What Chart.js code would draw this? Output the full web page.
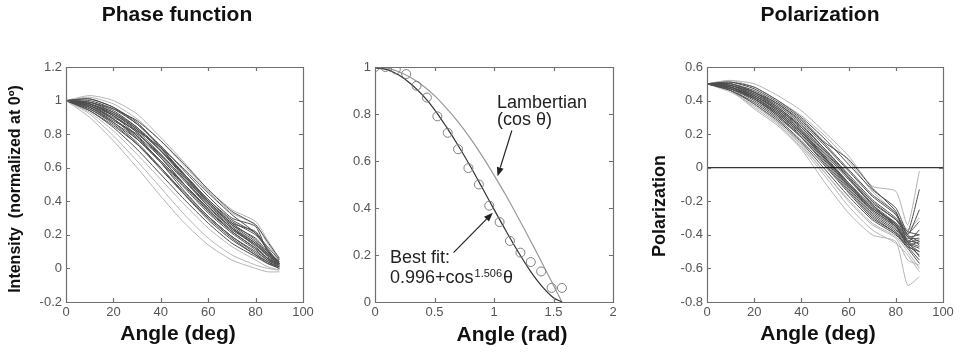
<!DOCTYPE html>
<html>
<head>
<meta charset="utf-8">
<script src="https://cdn.jsdelivr.net/npm/chart.js@4.4.1/dist/chart.umd.min.js"></script>
<style>
	html, body { margin: 0; padding: 0; background: #fff; }
	#figure { position: relative; width: 962px; height: 352px; }
	.panel { position: absolute; top: 0; height: 352px; }
</style>
</head>
<body>
<div id="figure">
	<div class="panel" style="left:0;width:320px"><canvas id="phase"></canvas></div>
	<div class="panel" style="left:320px;width:320px"><canvas id="fit"></canvas></div>
	<div class="panel" style="left:640px;width:322px"><canvas id="polar"></canvas></div>
</div>
<script>
// angles (deg) the measured curves were read at
var anglesDeg = [0, 10, 20, 30, 40, 50, 60, 70, 80, 85, 90];

// phase function, one row per sample, normalized at 0 deg
var phaseCurves = [
	[1.00, 1.03, 1.00, 0.92, 0.78, 0.63, 0.47, 0.35, 0.28, 0.17, 0.06],
	[1.00, 1.02, 0.98, 0.89, 0.76, 0.61, 0.46, 0.33, 0.26, 0.15, 0.05],
	[1.00, 0.97, 0.90, 0.82, 0.72, 0.59, 0.45, 0.32, 0.21, 0.11, 0.04],
	[1.00, 1.01, 0.96, 0.86, 0.73, 0.58, 0.43, 0.30, 0.25, 0.10, 0.03],
	[1.00, 1.01, 0.96, 0.87, 0.72, 0.55, 0.39, 0.26, 0.18, 0.10, 0.04],
	[1.00, 0.99, 0.93, 0.83, 0.70, 0.55, 0.40, 0.27, 0.17, 0.09, 0.03],
	[1.00, 0.98, 0.92, 0.82, 0.68, 0.53, 0.38, 0.25, 0.15, 0.08, 0.02],
	[1.00, 0.98, 0.91, 0.81, 0.67, 0.52, 0.37, 0.24, 0.14, 0.07, 0.02],
	[1.00, 0.96, 0.88, 0.80, 0.68, 0.53, 0.37, 0.24, 0.13, 0.06, 0.03],
	[1.00, 0.97, 0.89, 0.78, 0.64, 0.49, 0.34, 0.22, 0.12, 0.06, 0.01],
	[1.00, 0.97, 0.89, 0.77, 0.63, 0.48, 0.33, 0.21, 0.11, 0.05, 0.02],
	[1.00, 0.98, 0.91, 0.79, 0.63, 0.46, 0.31, 0.19, 0.10, 0.05, 0.01],
	[1.00, 0.96, 0.87, 0.75, 0.60, 0.45, 0.31, 0.19, 0.09, 0.04, 0.00],
	[1.00, 0.95, 0.86, 0.74, 0.59, 0.44, 0.30, 0.18, 0.08, 0.04, 0.01],
	[1.00, 0.94, 0.85, 0.74, 0.60, 0.44, 0.29, 0.17, 0.08, 0.03, 0.00],
	[1.00, 0.94, 0.84, 0.71, 0.56, 0.41, 0.27, 0.15, 0.07, 0.03, 0.01],
	[1.00, 0.93, 0.82, 0.68, 0.53, 0.38, 0.24, 0.13, 0.05, 0.01, -0.01],
	[1.00, 0.92, 0.79, 0.64, 0.48, 0.32, 0.18, 0.08, 0.02, 0.00, -0.01],
	[1.00, 0.90, 0.76, 0.60, 0.43, 0.27, 0.14, 0.05, 0.00, -0.02, -0.02],
	[1.00, 0.99, 0.95, 0.88, 0.76, 0.62, 0.47, 0.34, 0.26, 0.16, 0.06],
	[1.00, 0.98, 0.93, 0.84, 0.71, 0.56, 0.41, 0.28, 0.20, 0.12, 0.02],
	[1.00, 0.99, 0.94, 0.84, 0.70, 0.54, 0.39, 0.26, 0.16, 0.09, 0.04],
	[1.00, 0.98, 0.92, 0.83, 0.70, 0.56, 0.41, 0.29, 0.21, 0.13, 0.05],
	[1.00, 0.96, 0.89, 0.79, 0.66, 0.50, 0.35, 0.23, 0.14, 0.08, 0.03],
	[1.00, 0.97, 0.91, 0.81, 0.66, 0.50, 0.35, 0.22, 0.12, 0.06, 0.02],
	[1.00, 1.00, 0.95, 0.86, 0.72, 0.56, 0.40, 0.27, 0.22, 0.11, 0.03],
	[1.00, 0.95, 0.87, 0.77, 0.64, 0.50, 0.36, 0.24, 0.15, 0.08, 0.03]
];
var phaseLight = [0, 1, 16, 17, 18];

// polarization, one row per sample
var polarCurves = [
	[0.50, 0.52, 0.50, 0.43, 0.34, 0.21, 0.07, -0.11, -0.14, -0.34, -0.02],
	[0.50, 0.51, 0.48, 0.40, 0.30, 0.17, 0.02, -0.13, -0.24, -0.38, -0.13],
	[0.50, 0.50, 0.46, 0.38, 0.27, 0.13, -0.02, -0.17, -0.28, -0.40, -0.25],
	[0.50, 0.50, 0.45, 0.37, 0.26, 0.11, -0.04, -0.19, -0.30, -0.39, -0.32],
	[0.50, 0.49, 0.44, 0.36, 0.24, 0.09, -0.06, -0.21, -0.31, -0.41, -0.40],
	[0.50, 0.49, 0.44, 0.35, 0.23, 0.08, -0.07, -0.22, -0.33, -0.42, -0.42],
	[0.50, 0.48, 0.43, 0.34, 0.22, 0.07, -0.09, -0.24, -0.34, -0.43, -0.45],
	[0.50, 0.48, 0.42, 0.33, 0.21, 0.06, -0.10, -0.25, -0.35, -0.44, -0.47],
	[0.50, 0.48, 0.42, 0.32, 0.20, 0.05, -0.11, -0.26, -0.36, -0.45, -0.48],
	[0.50, 0.47, 0.41, 0.31, 0.19, 0.04, -0.12, -0.27, -0.37, -0.45, -0.50],
	[0.50, 0.47, 0.40, 0.30, 0.18, 0.03, -0.13, -0.28, -0.38, -0.46, -0.52],
	[0.50, 0.46, 0.39, 0.29, 0.16, 0.01, -0.15, -0.30, -0.39, -0.47, -0.55],
	[0.50, 0.46, 0.38, 0.28, 0.15, -0.01, -0.17, -0.31, -0.40, -0.48, -0.57],
	[0.50, 0.45, 0.37, 0.27, 0.13, -0.03, -0.19, -0.33, -0.41, -0.50, -0.60],
	[0.50, 0.49, 0.45, 0.38, 0.28, 0.14, -0.01, -0.16, -0.27, -0.40, -0.44],
	[0.50, 0.51, 0.47, 0.39, 0.29, 0.15, 0.05, -0.12, -0.26, -0.44, -0.37],
	[0.50, 0.46, 0.35, 0.25, 0.11, -0.09, -0.27, -0.40, -0.44, -0.70, -0.65],
	[0.50, 0.46, 0.36, 0.26, 0.12, -0.05, -0.23, -0.37, -0.45, -0.52, -0.62],
	[0.50, 0.47, 0.38, 0.27, 0.14, -0.03, -0.20, -0.34, -0.42, -0.55, -0.58],
	[0.50, 0.52, 0.48, 0.40, 0.31, 0.19, 0.04, -0.14, -0.27, -0.37, -0.30],
	[0.50, 0.49, 0.43, 0.34, 0.22, 0.06, -0.10, -0.24, -0.33, -0.41, -0.46],
	[0.50, 0.48, 0.43, 0.35, 0.24, 0.10, -0.06, -0.22, -0.35, -0.44, -0.43],
	[0.50, 0.47, 0.41, 0.32, 0.20, 0.05, -0.11, -0.25, -0.35, -0.44, -0.53],
	[0.50, 0.48, 0.41, 0.31, 0.18, 0.02, -0.14, -0.29, -0.39, -0.47, -0.50],
	[0.50, 0.50, 0.45, 0.36, 0.25, 0.11, -0.05, -0.20, -0.31, -0.38, -0.40],
	[0.50, 0.47, 0.42, 0.33, 0.21, 0.06, -0.09, -0.23, -0.34, -0.46, -0.44]
];
var polarLight = [0, 13, 16, 17, 18, 19];
var zeroLineX = [0, 100];
var zeroLineY = [0, 0];

// middle panel: model curves and the averaged measurement
var fitRad = [0, 0.1, 0.2, 0.3, 0.4, 0.5, 0.6, 0.7, 0.8, 0.9, 1.0, 1.1, 1.2, 1.3, 1.4, 1.5, 1.571];
var lambertian = [1.000, 0.995, 0.980, 0.955, 0.921, 0.878, 0.825, 0.765, 0.697, 0.622, 0.540, 0.454, 0.362, 0.267, 0.170, 0.071, 0.000];
var bestFit = [0.996, 0.989, 0.966, 0.929, 0.880, 0.819, 0.745, 0.665, 0.579, 0.487, 0.394, 0.303, 0.216, 0.136, 0.069, 0.018, 0.000];
var measuredRad = [0, 0.087, 0.175, 0.262, 0.349, 0.436, 0.524, 0.611, 0.698, 0.785, 0.873, 0.960, 1.047, 1.134, 1.222, 1.309, 1.396, 1.484, 1.571];
var measured = [1.00, 1.00, 0.99, 0.97, 0.92, 0.87, 0.79, 0.72, 0.65, 0.57, 0.50, 0.41, 0.34, 0.26, 0.21, 0.17, 0.13, 0.06, 0.06];

var FONT = '"Liberation Sans", Arial, sans-serif';
var DARK = '#4d4d4d', LIGHT = '#b3b3b3';

function points(xs, ys) {
	return xs.map(function(x, i) { return {x: x, y: ys[i]}; });
}

function curveSets(rows, light) {
	var dark = [], pale = [];
	rows.forEach(function(row, i) {
		var isLight = light.indexOf(i) >= 0;
		(isLight ? pale : dark).push({
			data: points(anglesDeg, row),
			borderColor: isLight ? LIGHT : DARK,
			borderWidth: 1,
			pointRadius: 0,
			tension: 0.2
		});
	});
	// dataset 0 is painted last, so dark curves go first
	return dark.concat(pale);
}

function tickLabel(v) {
	return String(Math.round(v * 10) / 10);
}

function axis(min, max, step, size, vertical) {
	return {
		type: 'linear',
		min: min,
		max: max,
		ticks: {stepSize: step, padding: vertical ? 4 : 3, color: '#555', font: {family: FONT, size: 13}, maxRotation: 0, callback: tickLabel},
		grid: {display: false, drawTicks: false},
		border: {display: false},
		afterFit: function(scale) {
			if (vertical) scale.width = size; else scale.height = size;
		}
	};
}

// MATLAB-like box with inward ticks on all four sides
var framePlugin = {
	id: 'frame',
	afterDatasetsDraw: function(chart) {
		var ctx = chart.ctx, a = chart.chartArea,
			sx = chart.scales.x, sy = chart.scales.y;
		ctx.save();
		ctx.strokeStyle = '#707070';
		ctx.lineWidth = 1.2;
		ctx.beginPath();
		ctx.rect(Math.round(a.left) + 0.5, Math.round(a.top) + 0.5, Math.round(a.right - a.left), Math.round(a.bottom - a.top));
		sx.ticks.forEach(function(t) {
			var px = Math.round(sx.getPixelForValue(t.value)) + 0.5;
			ctx.moveTo(px, a.bottom); ctx.lineTo(px, a.bottom - 4);
			ctx.moveTo(px, a.top); ctx.lineTo(px, a.top + 4);
		});
		sy.ticks.forEach(function(t) {
			var py = Math.round(sy.getPixelForValue(t.value)) + 0.5;
			ctx.moveTo(a.left, py); ctx.lineTo(a.left + 4, py);
			ctx.moveTo(a.right, py); ctx.lineTo(a.right - 4, py);
		});
		ctx.stroke();
		ctx.restore();
	}
};

// titles and axis labels, placed where the original figure had them
function labelPlugin(labels) {
	return {
		id: 'labels',
		afterDraw: function(chart) {
			var ctx = chart.ctx;
			ctx.save();
			ctx.fillStyle = '#111';
			labels.forEach(function(l) {
				ctx.save();
				ctx.font = 'bold ' + l.size + 'px ' + FONT;
				ctx.textAlign = 'center';
				ctx.translate(l.x, l.y);
				if (l.rotate) {
					ctx.rotate(-Math.PI / 2);
					ctx.textBaseline = 'middle';
				} else {
					ctx.textBaseline = 'alphabetic';
				}
				ctx.fillText(l.text, 0, 0);
				ctx.restore();
			});
			ctx.restore();
		}
	};
}

function drawArrow(ctx, x0, y0, x1, y1) {
	var ang = Math.atan2(y1 - y0, x1 - x0), len = 9, half = 3.5;
	ctx.beginPath();
	ctx.moveTo(x0, y0);
	ctx.lineTo(x1 - Math.cos(ang) * len, y1 - Math.sin(ang) * len);
	ctx.stroke();
	ctx.beginPath();
	ctx.moveTo(x1, y1);
	ctx.lineTo(x1 - Math.cos(ang) * len - Math.sin(ang) * half, y1 - Math.sin(ang) * len + Math.cos(ang) * half);
	ctx.lineTo(x1 - Math.cos(ang) * len + Math.sin(ang) * half, y1 - Math.sin(ang) * len - Math.cos(ang) * half);
	ctx.closePath();
	ctx.fill();
}

// annotations in data units of the middle panel
var fitNotes = [
	{text: 'Lambertian', at: [1.025, 0.826]},
	{text: '(cos θ)', at: [1.025, 0.753]},
	{text: 'Best fit:', at: [0.126, 0.166]},
	{text: '0.996+cos', sup: '1.506', after: 'θ', at: [0.126, 0.081]}
];
var fitArrows = [
	{from: [1.15, 0.73], to: [1.03, 0.535]},
	{from: [0.66, 0.21], to: [0.99, 0.38]}
];

var notePlugin = {
	id: 'notes',
	afterDraw: function(chart) {
		var ctx = chart.ctx, sx = chart.scales.x, sy = chart.scales.y;
		ctx.save();
		ctx.fillStyle = '#222';
		ctx.strokeStyle = '#222';
		ctx.lineWidth = 1.2;
		ctx.textBaseline = 'alphabetic';
		fitNotes.forEach(function(n) {
			var x = sx.getPixelForValue(n.at[0]), y = sy.getPixelForValue(n.at[1]);
			ctx.font = '18px ' + FONT;
			ctx.fillText(n.text, x, y);
			if (n.sup) {
				x += ctx.measureText(n.text).width + 1;
				ctx.font = '11px ' + FONT;
				ctx.fillText(n.sup, x, y - 6);
				x += ctx.measureText(n.sup).width + 1;
				ctx.font = '18px ' + FONT;
				ctx.fillText(n.after, x, y);
			}
		});
		fitArrows.forEach(function(a) {
			drawArrow(ctx, sx.getPixelForValue(a.from[0]), sy.getPixelForValue(a.from[1]),
				sx.getPixelForValue(a.to[0]), sy.getPixelForValue(a.to[1]));
		});
		ctx.restore();
	}
};

function panel(id, datasets, scales, padRight, plugins) {
	return new Chart(document.getElementById(id), {
		type: 'line',
		data: {datasets: datasets},
		options: {
			responsive: true,
			maintainAspectRatio: false,
			animation: false,
			layout: {padding: {top: 67, right: padRight, bottom: 0, left: 0}},
			plugins: {legend: {display: false}, tooltip: {enabled: false}},
			scales: scales
		},
		plugins: [framePlugin].concat(plugins)
	});
}

panel('phase', curveSets(phaseCurves, phaseLight), {
	x: axis(0, 100, 20, 50, false),
	y: axis(-0.2, 1.2, 0.2, 66, true)
}, 17, [labelPlugin([
	{text: 'Phase function', x: 177, y: 21, size: 21},
	{text: 'Angle (deg)', x: 178, y: 340, size: 21},
	{text: 'Intensity  (normalized at 0º)', x: 16, y: 189, size: 16, rotate: true}
])]);

panel('fit', [
	{data: points(measuredRad, measured), showLine: false, pointRadius: 4.5, pointBorderWidth: 1,
		pointBorderColor: '#7f7f7f', pointBackgroundColor: 'rgba(0,0,0,0)'},
	{data: points(fitRad, bestFit), borderColor: '#333', borderWidth: 1.2, pointRadius: 0, tension: 0.3},
	{data: points(fitRad, lambertian), borderColor: '#999', borderWidth: 1.2, pointRadius: 0, tension: 0.3}
], {
	x: axis(0, 2, 0.5, 50, false),
	y: axis(0, 1, 0.2, 55, true)
}, 27, [notePlugin, labelPlugin([
	{text: 'Angle (rad)', x: 192, y: 341, size: 21}
])]);

panel('polar', [
	{data: points(zeroLineX, zeroLineY), borderColor: '#000', borderWidth: 1, pointRadius: 0}
].concat(curveSets(polarCurves, polarLight)), {
	x: axis(0, 100, 20, 50, false),
	y: axis(-0.8, 0.6, 0.2, 67, true)
}, 19, [labelPlugin([
	{text: 'Polarization', x: 180, y: 21, size: 21},
	{text: 'Angle (deg)', x: 178, y: 340, size: 21},
	{text: 'Polarization', x: 20, y: 206, size: 18, rotate: true}
])]);
</script>
</body>
</html>
